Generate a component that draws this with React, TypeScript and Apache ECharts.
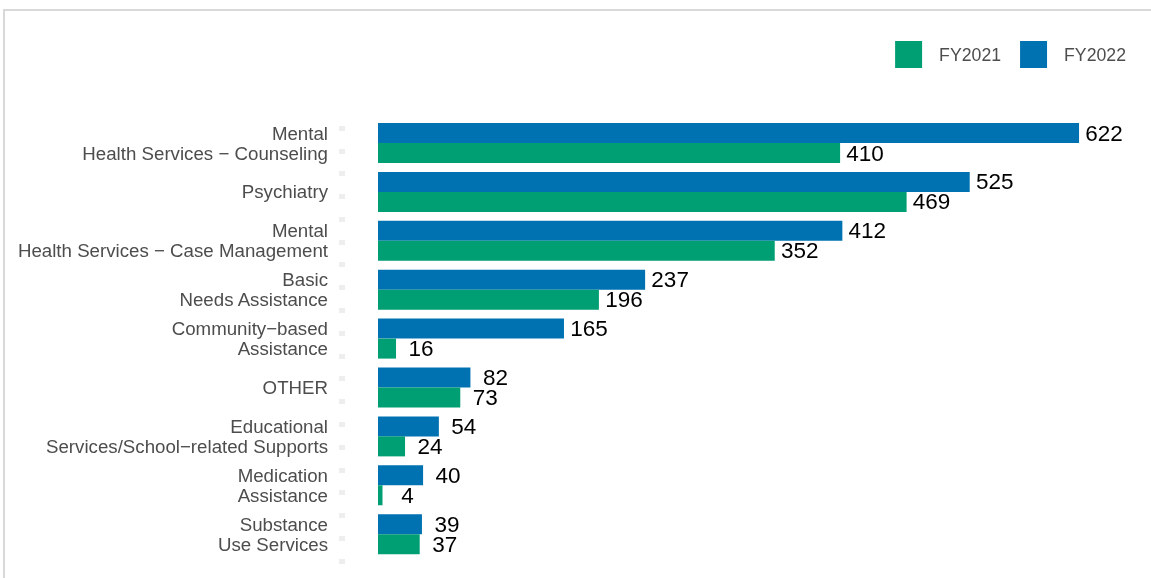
import React, { useEffect, useRef } from "react";
import * as echarts from "echarts";

const categories = [
  "Mental\nHealth Services \u2212 Counseling",
  "Psychiatry",
  "Mental\nHealth Services \u2212 Case Management",
  "Basic\nNeeds Assistance",
  "Community\u2212based\nAssistance",
  "OTHER",
  "Educational\nServices/School\u2212related Supports",
  "Medication\nAssistance",
  "Substance\nUse Services",
];
const fy2022 = [622, 525, 412, 237, 165, 82, 54, 40, 39];
const fy2021 = [410, 469, 352, 196, 16, 73, 24, 4, 37];
const tickSlots = 19;

export default function App() {
  const ref = useRef<HTMLDivElement>(null);
  useEffect(() => {
    if (!ref.current) return;
    const chart = echarts.init(ref.current, null, { renderer: "svg" });
    const font = "Liberation Sans, Arial, sans-serif";
    const labelStyle = {
      show: true,
      position: "right" as const,
      distance: 25,
      align: "center" as const,
      color: "#000",
      fontSize: 22.5,
      fontFamily: font,
    };
    chart.setOption({
      animation: false,
      graphic: [
        {
          type: "rect",
          shape: { x: 4, y: 10, width: 1200, height: 600 },
          style: { fill: "none", stroke: "#d9d9d9", lineWidth: 2 },
          silent: true,
        },
      ],
      legend: {
        data: ["FY2021", "FY2022"],
        right: 25,
        top: 41,
        padding: 0,
        itemWidth: 27,
        itemHeight: 27,
        itemGap: 19,
        icon: "rect",
        textStyle: {
          color: "#4d4d4d",
          fontSize: 17.7,
          fontFamily: font,
          padding: [0, 0, 0, 12],
        },
      },
      grid: [
        { left: 378, top: 118.6, height: 440, width: 732.6 },
        { left: 345, top: 128, height: 433, width: 1 },
      ],
      xAxis: [
        { type: "value", gridIndex: 0, min: 0, max: 650, show: false },
        { type: "value", gridIndex: 1, show: false },
      ],
      yAxis: [
        {
          type: "category",
          gridIndex: 0,
          data: categories,
          inverse: true,
          axisLine: { show: false },
          axisTick: { show: false },
          axisLabel: {
            margin: 50,
            color: "#4d4d4d",
            fontSize: 18.7,
            lineHeight: 20,
            fontFamily: font,
            align: "right",
          },
        },
        {
          type: "value",
          gridIndex: 1,
          min: 0,
          max: tickSlots,
          interval: 1,
          axisLine: { show: false },
          axisLabel: { show: false },
          splitLine: { show: false },
          axisTick: {
            show: true,
            length: 6,
            lineStyle: { color: "#eeeeee", width: 5 },
          },
        },
      ],
      series: [
        {
          name: "FY2022",
          type: "bar",
          data: fy2022,
          barWidth: 20,
          barGap: "0%",
          itemStyle: { color: "#0072B2" },
          label: labelStyle,
        },
        {
          name: "FY2021",
          type: "bar",
          data: fy2021,
          barWidth: 20,
          barGap: "0%",
          itemStyle: { color: "#009E73" },
          label: labelStyle,
        },
      ],
    });
    return () => chart.dispose();
  }, []);
  return (
    <div
      ref={ref}
      style={{ position: "fixed", left: 0, top: 0, width: 1151, height: 578 }}
    />
  );
}
